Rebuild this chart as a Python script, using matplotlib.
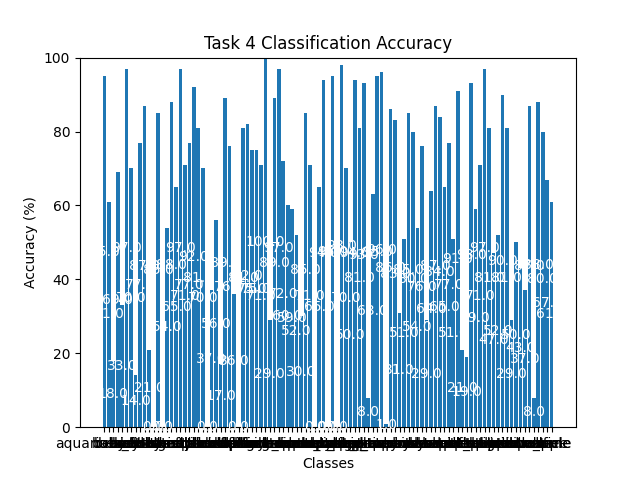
import matplotlib
matplotlib.use("Agg")
import matplotlib.pyplot as plt

cifar = ["apple","aquarium_fish","baby","bear","beaver","bed","bee","beetle","bicycle","bottle",
 "bowl","boy","bridge","bus","butterfly","camel","can","castle","caterpillar","cattle",
 "chair","chimpanzee","clock","cloud","cockroach","couch","crab","crocodile","cup","dinosaur",
 "dolphin","elephant","flatfish","forest","fox","girl","hamster","house","kangaroo","keyboard",
 "lamp","lawn_mower","leopard","lion","lizard","lobster","man","maple_tree","motorcycle","mountain",
 "mouse","mushroom","oak_tree","orange","orchid","otter","palm_tree","pear","pickup_truck","pine_tree",
 "plain","plate","poppy","porcupine","possum","rabbit","raccoon","ray","road","rocket",
 "rose","sea","seal","shark","shrew","skunk","skyscraper","snail","snake","spider",
 "squirrel","streetcar","sunflower","sweet_pepper","table","tank","telephone","television","tiger","tractor",
 "train","trout","tulip","turtle","wardrobe","whale","willow_tree","wolf","woman","worm"]
classes = cifar[1:] + ["vehicle", "apple"]

accuracy = [95, 61, 18, 69, 33, 97, 70, 14, 77, 87, 21, 0, 85, 0, 54, 88, 65,
            97, 71, 77, 92, 81, 70, 0, 37, 56, 17, 89, 76, 36, 0, 81, 82, 75, 75,
            71, 100, 29, 89, 97, 72, 60, 59, 52, 30, 85, 71,
            0, 65, 94, 0, 95, 0, 98, 70, 50, 94, 81, 93, 8, 63, 95, 96, 1, 86, 83, 31, 51, 85, 80,
            54, 76, 29, 64, 87, 84, 65, 77, 51, 91, 21, 19, 93, 59, 71, 97, 81,
            47, 52, 90, 81, 29, 50, 43, 37, 87, 8, 88, 80, 67, 61]

fig, ax = plt.subplots(figsize=(6.4, 4.8), dpi=100)
bars = ax.bar(classes, accuracy, color="#1f77b4")
for b, v in zip(bars, accuracy):
    ax.text(b.get_x() + b.get_width() / 2, v / 2, f"{float(v):.1f}",
            ha="center", va="center", color="white", fontsize=10)
ax.set_ylim(0, 100)
ax.set_title("Task 4 Classification Accuracy")
ax.set_xlabel("Classes")
ax.set_ylabel("Accuracy (%)")
fig.savefig("out.png")
